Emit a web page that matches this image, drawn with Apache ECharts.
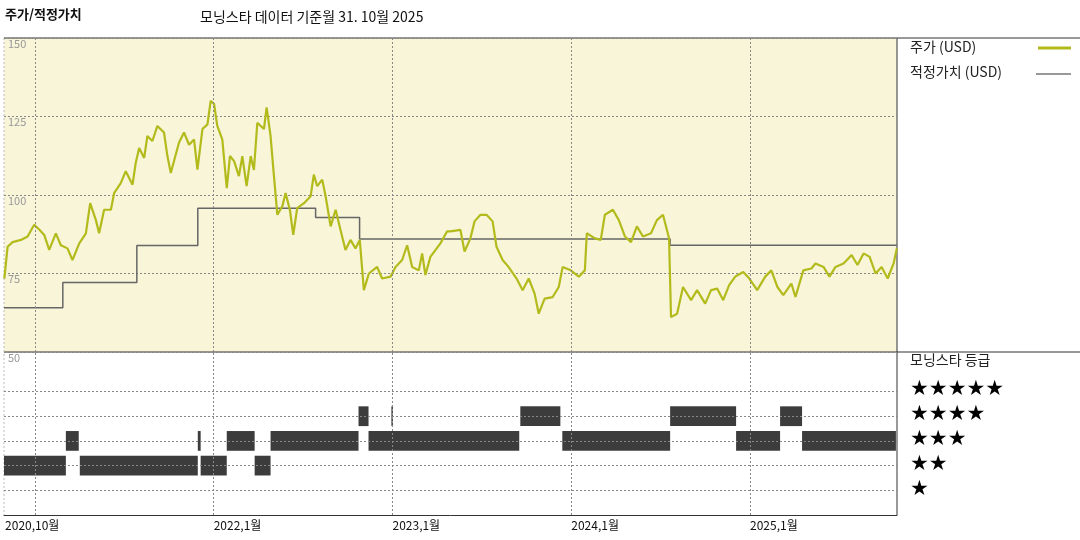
<!DOCTYPE html>
<html><head><meta charset="utf-8">
<script src="https://cdn.jsdelivr.net/npm/echarts@6/dist/echarts.min.js"></script>
<style>html,body{margin:0;background:#fff}#c{width:1080px;height:540px}</style>
</head><body><div id="c"></div>
<script>
// price (decimal year, USD)
const priceT = [2020.829,2020.847,2020.875,2020.922,2020.959,2020.996,2021.024,2021.052,2021.080,2021.117,2021.145,2021.182,2021.210,2021.248,2021.285,2021.309,2021.341,2021.359,2021.387,2021.425,2021.443,2021.480,2021.508,2021.546,2021.564,2021.583,2021.611,2021.629,2021.657,2021.685,2021.722,2021.741,2021.760,2021.778,2021.806,2021.834,2021.862,2021.890,2021.909,2021.937,2021.965,2021.983,2022.002,2022.020,2022.048,2022.073,2022.091,2022.114,2022.141,2022.160,2022.184,2022.207,2022.225,2022.244,2022.281,2022.296,2022.318,2022.337,2022.356,2022.384,2022.402,2022.426,2022.445,2022.467,2022.505,2022.542,2022.560,2022.579,2022.607,2022.626,2022.654,2022.682,2022.709,2022.737,2022.765,2022.793,2022.817,2022.840,2022.868,2022.914,2022.942,2022.989,2023.017,2023.054,2023.082,2023.110,2023.147,2023.166,2023.184,2023.212,2023.268,2023.305,2023.324,2023.380,2023.403,2023.436,2023.459,2023.492,2023.526,2023.560,2023.582,2023.616,2023.649,2023.694,2023.728,2023.762,2023.795,2023.818,2023.851,2023.896,2023.930,2023.952,2023.997,2024.042,2024.076,2024.087,2024.132,2024.165,2024.188,2024.233,2024.266,2024.300,2024.334,2024.367,2024.401,2024.446,2024.479,2024.513,2024.547,2024.558,2024.592,2024.625,2024.670,2024.704,2024.749,2024.782,2024.816,2024.850,2024.883,2024.917,2024.962,2024.996,2025.040,2025.085,2025.119,2025.153,2025.186,2025.231,2025.254,2025.298,2025.343,2025.366,2025.411,2025.444,2025.478,2025.523,2025.568,2025.601,2025.635,2025.669,2025.702,2025.736,2025.770,2025.803,2025.821];
const priceV = [73.4,83.5,85,85.7,86.8,90.5,89,87.3,82.5,87.8,84,83,79.3,84.6,87.8,97.4,92,87.8,95.3,95.3,100.6,103.8,107.6,103.3,110.3,115,111.8,118.8,117.2,122,119.9,112.4,107,110.8,116.7,119.9,116,117.7,108.1,121,122.5,130,129,122,117.7,102.2,112.4,110.8,106,112.4,102.8,112.4,108,123,121,127.9,118.8,106,93.7,96.4,100.6,95.3,87.3,95.8,97.4,99.6,106.5,102.8,104.9,99.6,90,95.3,88.9,82.5,85.7,83,85.7,69.7,75,77.1,73.4,74,77.1,79.3,84,77.1,76,81.4,74.5,80.3,84.6,88.4,88.4,88.9,82,86.2,91.6,93.7,93.7,91.6,83.5,79.3,77.1,73.4,69.7,73.4,68.6,62.2,67,67.5,70.7,77.1,76,74,76,87.8,86.2,85.7,93.7,95.3,92,86.8,85,90,86.8,87.8,92,93.7,86.2,61.1,62.2,70.7,66.5,69.7,65.4,69.7,70.2,66.5,71.3,74,75.5,73.4,69.7,74,76,70.7,68.1,71.8,67.5,76,76.6,78.2,77.1,74,77.1,78.2,80.9,77.7,81.4,80.3,75,77.1,73.4,78.2,83];
// fair value steps
const fairT = [2020.827,2021.156,2021.570,2021.911,2022.570,2022.816,2024.553,2025.821];
const fairV = [64.1,72.1,83.9,95.8,92.8,86,84,84];
// star rating periods [start, end, stars]
const ratings = [
  [2020.827,2021.173,2],[2021.173,2021.245,3],[2021.251,2021.911,2],[2021.911,2021.927,3],
  [2021.927,2022.073,2],[2022.073,2022.229,3],[2022.229,2022.318,2],[2022.318,2022.810,3],
  [2022.810,2022.866,4],[2022.866,2023.709,3],[2022.994,2023.001,4],[2023.715,2023.939,4],
  [2023.950,2024.553,3],[2024.553,2024.922,4],[2024.922,2025.168,3],[2025.168,2025.291,4],
  [2025.291,2025.816,3]
];
const starRows = [1,2,3,4,5];
const yearTicks = [2021,2022,2023,2024,2025];
const xLabels = [2020.833,2021,2022,2023,2024,2025];
const xMin = 2020.827, xMax = 2025.822;

const grey = '#888';
const dash = {color: grey, type: [2,2], width: 1};
const chart = echarts.init(document.getElementById('c'));
chart.setOption({
  animation: false,
  textStyle: {fontFamily: '"Noto Sans CJK KR", sans-serif'},
  grid: [
    {left: 4, top: 38, width: 893, height: 314, backgroundColor: '#f8f5d9', show: true, borderWidth: 0},
    {left: 4, top: 352, width: 893, height: 163, show: false}
  ],
  xAxis: [
    {gridIndex: 0, type: 'value', min: xMin, max: xMax, axisLine: {show: false}, axisTick: {show: false},
     axisLabel: {show: false}, splitLine: {show: false}},
    {gridIndex: 1, type: 'value', min: xMin, max: xMax,
     axisLine: {lineStyle: {color: '#333'}}, axisTick: {show: false}, splitLine: {show: false},
     axisLabel: {customValues: xLabels, color: '#111', fontSize: 12, margin: 4, align: 'left',
       hideOverlap: false, showMinLabel: true,
       formatter: v => v < 2021 ? '2020,10월' : Math.round(v) + ',1월'}}
  ],
  yAxis: [
    {gridIndex: 0, type: 'value', min: 50, max: 150, interval: 25,
     axisLine: {show: false}, axisTick: {show: false},
     axisLabel: {inside: true, verticalAlign: 'top', color: '#999', fontSize: 11, margin: 4},
     splitLine: {lineStyle: dash}},
    {gridIndex: 1, type: 'value', min: 0, max: 6.6,
     axisLine: {show: false}, axisTick: {show: false}, axisLabel: {show: false},
     splitLine: {show: false}}
  ],
  series: [
    {type: 'line', xAxisIndex: 0, yAxisIndex: 0, showSymbol: false, step: 'end',
     data: fairT.map((t, i) => [t, fairV[i]]), lineStyle: {color: '#666', width: 1.5}, z: 3,
     markLine: {silent: true, symbol: 'none', label: {show: false}, lineStyle: dash,
       data: yearTicks.map(y => ({xAxis: y}))}},
    {type: 'line', xAxisIndex: 0, yAxisIndex: 0, showSymbol: false,
     data: priceT.map((t, i) => [t, priceV[i]]), lineStyle: {color: '#b3bb1c', width: 2.2}, z: 4},
    {type: 'custom', xAxisIndex: 1, yAxisIndex: 1,
     data: ratings,
     renderItem: (params, api) => {
       const a = api.coord([api.value(0), api.value(2) + 0.4]);
       const b = api.coord([api.value(1), api.value(2) - 0.4]);
       return {type: 'rect', shape: {x: a[0], y: a[1], width: Math.max(1.5, b[0] - a[0]), height: b[1] - a[1]},
         style: {fill: '#3c3c3c'}};
     },
     markLine: {silent: true, symbol: 'none', label: {show: false}, lineStyle: dash,
       data: yearTicks.map(y => ({xAxis: y})).concat(starRows.map(s => ({yAxis: s})))}}
  ],
  graphic: [
    {type: 'text', left: 5, top: 8, style: {text: '주가/적정가치', font: 'bold 13px "Noto Sans CJK KR"', fill: '#111'}},
    {type: 'text', left: 200, top: 10, style: {text: '모닝스타 데이터 기준월 31. 10월 2025', font: '14px "Noto Sans CJK KR"', fill: '#111'}},
    {type: 'line', shape: {x1: 4, y1: 38, x2: 1080, y2: 38}, style: {stroke: '#333', lineWidth: 1}},
    {type: 'line', shape: {x1: 4, y1: 352, x2: 1080, y2: 352}, style: {stroke: '#333', lineWidth: 1}},
    {type: 'line', shape: {x1: 897, y1: 38, x2: 897, y2: 515}, style: {stroke: '#333', lineWidth: 1}},
    {type: 'line', shape: {x1: 4, y1: 38, x2: 4, y2: 515}, style: {stroke: '#bbb', lineWidth: 1, lineDash: [2,2]}},
    {type: 'text', left: 910, top: 40, style: {text: '주가 (USD)', font: '14px "Noto Sans CJK KR"', fill: '#222'}},
    {type: 'line', shape: {x1: 1038, y1: 48, x2: 1071, y2: 48}, style: {stroke: '#b3bb1c', lineWidth: 3}},
    {type: 'text', left: 910, top: 65, style: {text: '적정가치 (USD)', font: '14px "Noto Sans CJK KR"', fill: '#222'}},
    {type: 'line', shape: {x1: 1036, y1: 74, x2: 1071, y2: 74}, style: {stroke: '#777', lineWidth: 1.5}},
    {type: 'text', left: 910, top: 353, style: {text: '모닝스타 등급', font: '14px "Noto Sans CJK KR"', fill: '#222'}},
    {type: 'text', left: 910, top: 379, style: {text: '★★★★★', font: '21px "DejaVu Sans"', fill: '#000'}},
    {type: 'text', left: 910, top: 404, style: {text: '★★★★', font: '21px "DejaVu Sans"', fill: '#000'}},
    {type: 'text', left: 910, top: 429, style: {text: '★★★', font: '21px "DejaVu Sans"', fill: '#000'}},
    {type: 'text', left: 910, top: 454, style: {text: '★★', font: '21px "DejaVu Sans"', fill: '#000'}},
    {type: 'text', left: 910, top: 479, style: {text: '★', font: '21px "DejaVu Sans"', fill: '#000'}}
  ]
});
</script></body></html>
